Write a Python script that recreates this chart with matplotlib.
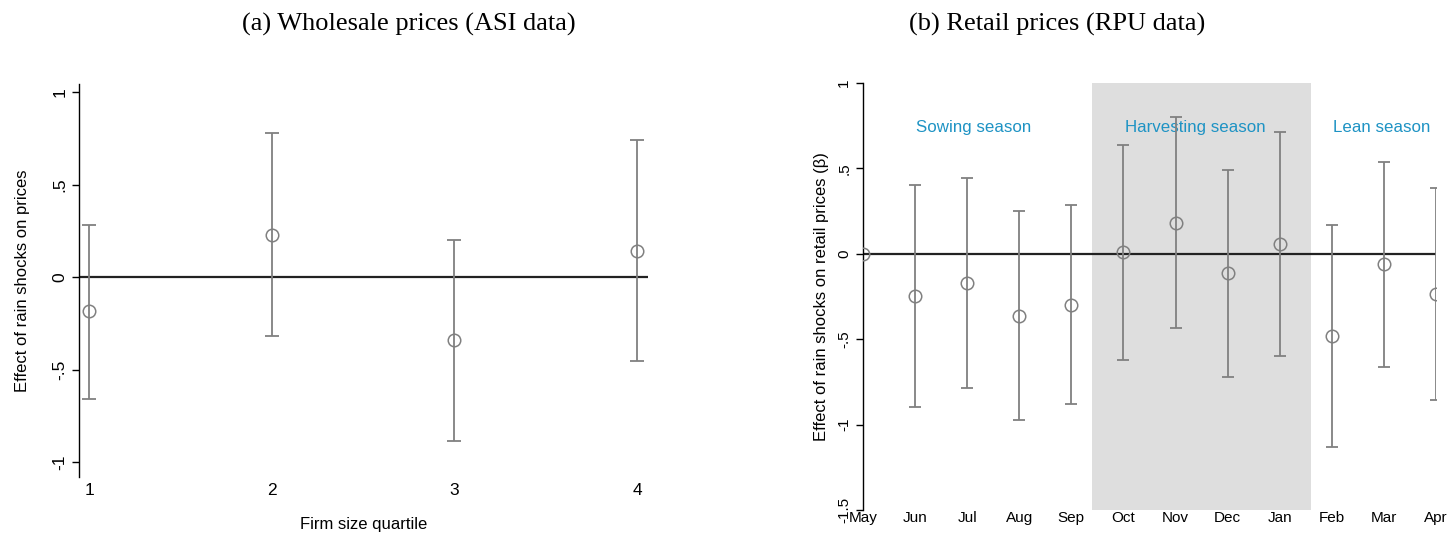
import matplotlib
matplotlib.use('Agg')
import matplotlib.pyplot as plt

# panel (a): wholesale prices by firm size quartile
quartiles = [1, 2, 3, 4]
ws_coef = [-0.18, 0.23, -0.34, 0.14]
ws_lo = [-0.66, -0.32, -0.885, -0.455]
ws_hi = [0.285, 0.78, 0.20, 0.74]

# panel (b): retail prices by month
months = ['May', 'Jun', 'Jul', 'Aug', 'Sep', 'Oct', 'Nov', 'Dec', 'Jan', 'Feb', 'Mar', 'Apr']
rt_coef = [0.0, -0.248, -0.170, -0.363, -0.298, 0.008, 0.181, -0.115, 0.057, -0.483, -0.060, -0.236]
rt_lo = [0.0, -0.899, -0.784, -0.975, -0.879, -0.622, -0.435, -0.721, -0.598, -1.131, -0.661, -0.856]
rt_hi = [0.0, 0.402, 0.442, 0.251, 0.285, 0.637, 0.799, 0.493, 0.713, 0.168, 0.540, 0.384]
seasons = ['Sowing season', 'Harvesting season', 'Lean season']
season_x = [2.13, 6.38, 9.96]
harvest_span = (4.4, 8.6)

plt.rcParams['font.family'] = ['Liberation Sans', 'DejaVu Sans']
grey = '#808080'
blue = '#1e93c4'

fig = plt.figure(figsize=(14.47, 5.34), dpi=100)


def draw_ci(ax, x, coef, lo, hi, capsize):
    for xi, c, l, h in zip(x, coef, lo, hi):
        if h > l:
            ax.errorbar(xi, c, yerr=[[c - l], [h - c]], fmt='none', ecolor=grey,
                        elinewidth=1.3, capsize=capsize, capthick=1.3, zorder=3)
    ax.plot(x, coef, 'o', ms=9, mfc='none', mec=grey, mew=1.1, zorder=4)


def style(ax):
    for s in ['top', 'right', 'bottom']:
        ax.spines[s].set_visible(False)
    ax.spines['left'].set_linewidth(1.0)
    ax.tick_params(axis='x', length=0)
    ax.tick_params(axis='y', length=5, width=1.0, direction='out')


# (a)
ax1 = fig.add_axes([0.0546, 0.1067, 0.3932, 0.736])
ax1.axhline(0, color='#222222', lw=1.6, zorder=2)
draw_ci(ax1, quartiles, ws_coef, ws_lo, ws_hi, 5)
ax1.set_xlim(0.945, 4.06)
ax1.set_ylim(-1.08, 1.045)
ax1.set_xticks(quartiles)
ax1.set_xticklabels([str(q) for q in quartiles], fontsize=12.5)
ax1.set_yticks([-1, -0.5, 0, 0.5, 1])
ax1.set_yticklabels(['-1', '-.5', '0', '.5', '1'], fontsize=12.5, rotation=90, va='center')
ax1.tick_params(axis='x', pad=4)
ax1.set_ylabel('Effect of rain shocks on prices', fontsize=12, labelpad=16)
ax1.set_xlabel('Firm size quartile', fontsize=12, labelpad=14)
style(ax1)
fig.text(0.2826, 0.955, '(a) Wholesale prices (ASI data)', ha='center', va='center',
         fontsize=19, family='Liberation Serif')

# (b)
ax2 = fig.add_axes([0.5964, 0.045, 0.396, 0.7995])
ax2.axvspan(*harvest_span, color='#dedede', lw=0, zorder=0)
ax2.axhline(0, color='#222222', lw=1.6, zorder=2)
xs = list(range(len(months)))
draw_ci(ax2, xs, rt_coef, rt_lo, rt_hi, 4)
for name, sx in zip(seasons, season_x):
    ax2.text(sx, 0.74, name, color=blue, fontsize=12.2, ha='center', va='center', zorder=2.5)
ax2.set_xlim(0, 11)
ax2.set_ylim(-1.5, 1)
ax2.set_xticks(xs)
ax2.set_xticklabels(months, fontsize=11)
ax2.set_yticks([-1.5, -1, -0.5, 0, 0.5, 1])
ax2.set_yticklabels(['-1.5', '-1', '-.5', '0', '.5', '1'], fontsize=11, rotation=90, va='center')
ax2.tick_params(axis='x', pad=1)
ax2.set_ylabel('Effect of rain shocks on retail prices (\u03b2)', fontsize=12, labelpad=6)
for lab in ax2.get_xticklabels():
    lab.set_clip_on(False)
style(ax2)
fig.text(0.7305, 0.955, '(b) Retail prices (RPU data)', ha='center', va='center',
         fontsize=19, family='Liberation Serif')

fig.savefig('out.png', dpi=100)
